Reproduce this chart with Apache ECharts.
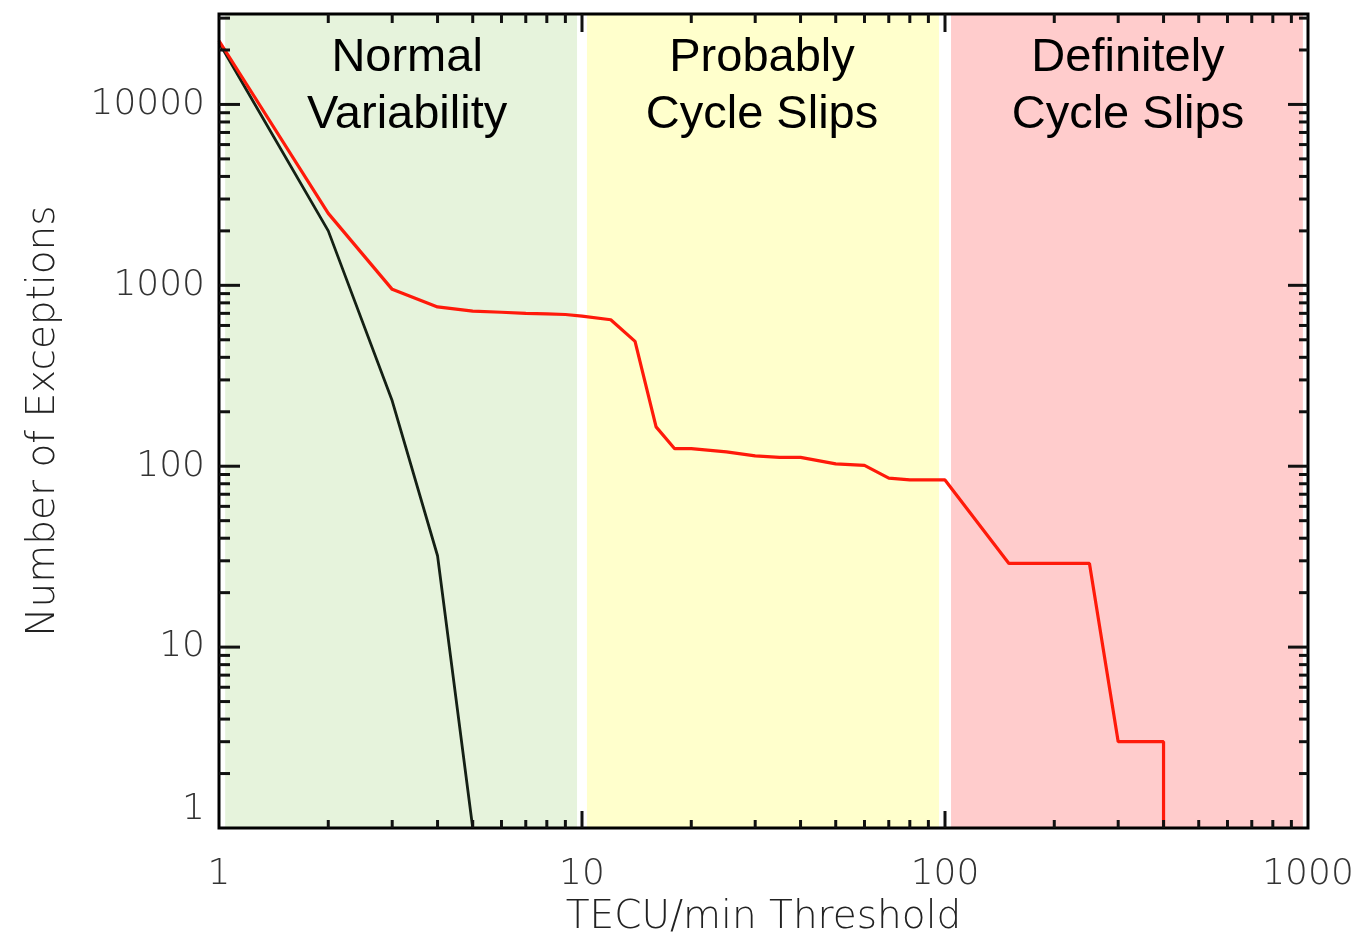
<!DOCTYPE html>
<html>
<head>
<meta charset="utf-8">
<title>Number of Exceptions vs TECU/min Threshold</title>
<script src="https://cdn.jsdelivr.net/npm/echarts@6/dist/echarts.min.js"></script>
<style>
  html, body { margin: 0; padding: 0; background: #fff; }
  #chart { width: 1364px; height: 945px; }
</style>
</head>
<body>
<div id="chart"></div>
<script>
// Exceedance counts for each rate-of-TEC threshold (TECU/min)
const blackThreshold = [1, 2, 3, 4, 5];
const blackCount = [22000, 2000, 230, 32, 1];

const redThreshold = [1, 2, 3, 4, 5, 6, 7, 8, 9, 10, 12, 14, 16, 18, 20, 25, 30, 35, 40, 50, 60, 70, 80, 100, 150, 250, 300, 400, 400];
const redCount = [22500, 2500, 950, 760, 720, 710, 700, 695, 690, 675, 645, 490, 165, 125, 125, 120, 114, 112, 112, 103, 101, 86, 84, 84, 29, 29, 3, 3, 1];

// Shaded regimes along the threshold axis
const bandNames = ['Normal\nVariability', 'Probably\nCycle Slips', 'Definitely\nCycle Slips'];
const bandStart = [1.04, 10.32, 103.9];
const bandEnd = [9.69, 96.3, 968];
const bandColors = ['#e6f3dc', '#ffffcc', '#ffcccc'];
const bandLabelShift = [6, -1, 1];

// Axis ranges and ticks
const xRange = [1, 1000];
const yRange = [1, 31623];
const xMajorTicks = [10, 100];
const xMinorTicks = [2, 3, 4, 5, 6, 7, 8, 9, 20, 30, 40, 50, 60, 70, 80, 90, 200, 300, 400, 500, 600, 700, 800, 900];
const yMajorTicks = [10, 100, 1000, 10000];
const yMinorTicks = [2, 3, 4, 5, 6, 7, 8, 9, 20, 30, 40, 50, 60, 70, 80, 90, 200, 300, 400, 500, 600, 700, 800, 900,
  2000, 3000, 4000, 5000, 6000, 7000, 8000, 9000, 20000, 30000];

const tickFont = "'DejaVu Sans', 'Open Sans', sans-serif";

function isDecade(v) {
  const l = Math.log10(v);
  return Math.abs(l - Math.round(l)) < 1e-6;
}

const chart = echarts.init(document.getElementById('chart'), null, { renderer: 'canvas' });

const xTickData = xMajorTicks.map(v => [v, yRange[0], 1]).concat(xMinorTicks.map(v => [v, yRange[0], 0]));
const yTickData = yMajorTicks.map(v => [xRange[0], v, 1]).concat(yMinorTicks.map(v => [xRange[0], v, 0]));

const tickStyle = { stroke: '#111', lineWidth: 3 };

const option = {
  animation: false,
  grid: {
    left: 219, top: 14, right: 56, bottom: 117,
    show: true, z: 5,
    backgroundColor: 'transparent',
    borderColor: '#000', borderWidth: 3
  },
  xAxis: {
    type: 'log', logBase: 10, min: xRange[0], max: xRange[1],
    axisLine: { show: false }, axisTick: { show: false }, splitLine: { show: false },
    axisLabel: {
      margin: 29, fontFamily: tickFont, fontWeight: 200, fontSize: 36, color: '#333',
      formatter: v => isDecade(v) ? String(Math.round(v)) : ''
    },
    name: 'TECU/min Threshold', nameLocation: 'middle', nameGap: 70,
    nameTextStyle: { fontFamily: tickFont, fontWeight: 200, fontSize: 39, color: '#222' }
  },
  yAxis: {
    type: 'log', logBase: 10, min: yRange[0], max: yRange[1],
    axisLine: { show: false }, axisTick: { show: false }, splitLine: { show: false },
    axisLabel: {
      margin: 14, fontFamily: tickFont, fontWeight: 200, fontSize: 36, color: '#333',
      verticalAlignMinLabel: 'bottom', showMaxLabel: false,
      formatter: v => isDecade(v) ? String(Math.round(v)) : ''
    },
    name: 'Number of Exceptions', nameLocation: 'middle', nameGap: 156,
    nameTextStyle: { fontFamily: tickFont, fontWeight: 200, fontSize: 39, color: '#222' }
  },
  series: [
    {
      type: 'line', name: 'bands', data: [], z: 1,
      markArea: {
        silent: true,
        data: bandNames.map((n, i) => [
          {
            xAxis: bandStart[i], name: n,
            itemStyle: { color: bandColors[i] },
            label: {
              show: true, position: 'insideTop', distance: 16,
              offset: [bandLabelShift[i], 0],
              formatter: n, color: '#000',
              fontFamily: "'Liberation Sans', Arial, sans-serif", fontSize: 47, lineHeight: 57,
              align: 'center'
            }
          },
          { xAxis: bandEnd[i] }
        ])
      }
    },
    {
      type: 'line', name: 'black', z: 3,
      data: blackThreshold.map((x, i) => [x, blackCount[i]]),
      showSymbol: false, symbol: 'none',
      lineStyle: { color: '#142014', width: 2.8 }
    },
    {
      type: 'line', name: 'red', z: 4,
      data: redThreshold.map((x, i) => [x, redCount[i]]),
      showSymbol: false, symbol: 'none',
      lineStyle: { color: '#ff1a0a', width: 3.2 }
    },
    {
      // x-axis ticks on the bottom and top edges, pointing inward
      type: 'custom', z: 6, silent: true, clip: false,
      data: xTickData,
      encode: { x: 0, y: 1 },
      renderItem: (params, api) => {
        const major = api.value(2) === 1;
        const bottom = api.coord([api.value(0), yRange[0]]);
        const top = api.coord([api.value(0), yRange[1]]);
        const lb = major ? 17 : 8;
        const lt = major ? 18 : 9;
        return {
          type: 'group',
          children: [
            { type: 'line', shape: { x1: bottom[0], y1: bottom[1], x2: bottom[0], y2: bottom[1] - lb }, style: tickStyle },
            { type: 'line', shape: { x1: top[0], y1: top[1], x2: top[0], y2: top[1] + lt }, style: tickStyle }
          ]
        };
      }
    },
    {
      // y-axis ticks on the left and right edges, pointing inward
      type: 'custom', z: 6, silent: true, clip: false,
      data: yTickData,
      encode: { x: 0, y: 1 },
      renderItem: (params, api) => {
        const major = api.value(2) === 1;
        const left = api.coord([xRange[0], api.value(1)]);
        const right = api.coord([xRange[1], api.value(1)]);
        const ll = major ? 21 : 11;
        const lr = major ? 20 : 9;
        return {
          type: 'group',
          children: [
            { type: 'line', shape: { x1: left[0], y1: left[1], x2: left[0] + ll, y2: left[1] }, style: tickStyle },
            { type: 'line', shape: { x1: right[0], y1: right[1], x2: right[0] - lr, y2: right[1] }, style: tickStyle }
          ]
        };
      }
    }
  ]
};

chart.setOption(option);
</script>
</body>
</html>
